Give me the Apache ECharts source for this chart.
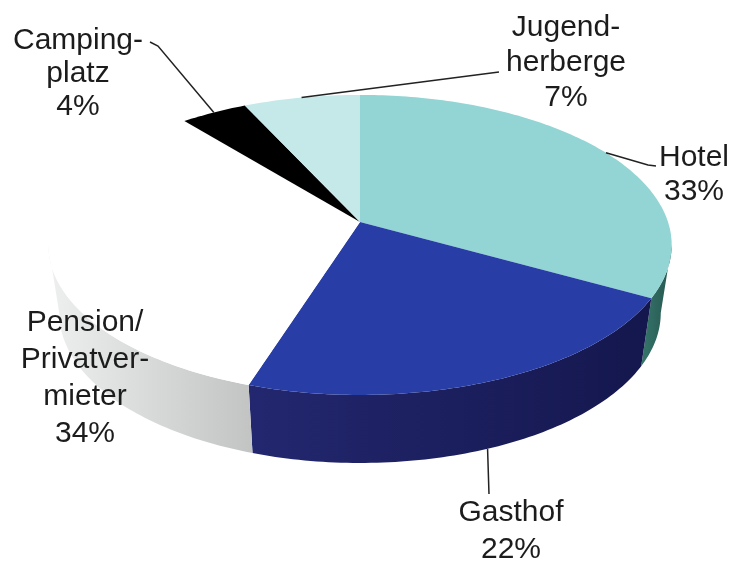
<!DOCTYPE html>
<html>
<head>
<meta charset="utf-8">
<script src="https://cdn.jsdelivr.net/npm/echarts@6/dist/echarts.min.js"></script>
<style>
  html, body { margin: 0; padding: 0; background: #fff; }
  #main { width: 736px; height: 564px; }
</style>
</head>
<body>
<div id="main"></div>
<script>
// Verteilung der Übernachtungen nach Betriebsart

const categories = ['Hotel', 'Gasthof', 'Pension/Privatvermieter', 'Campingplatz', 'Jugendherberge'];
const labelTexts = ['Hotel', 'Gasthof', 'Pension/\nPrivatver-\nmieter', 'Camping-\nplatz', 'Jugend-\nherberge'];
const shares = [33, 22, 34, 4, 7];

// Farben (Oberseite / Seitenwand)
const topColors = ['#93d4d4', '#283ea6', '#ffffff', '#000000', '#c5e8e9'];
const sideColors = [
    ['#36766c', '#25554e'],
    ['#23276f', '#14174d'],
    ['#eeefef', '#c2c4c4'],
    ['#111111', '#000000'],
    ['#9fc8c9', '#86b0b1']
];

// Beschriftung: Mittelpunkt, Zeilenhöhe, Knickpunkte der Führungslinie
const labelAt = [[694, 175], [511, 531], [85, 378], [78, 74], [566, 63]];
const labelLineHeight = [34, 37, 37, 33, 35];
const leaderPoints = [
    [[648, 165], [656, 166]],
    [[489, 494]],
    null,
    [[158, 46], [150, 42]],
    [[499, 72]]
];

// Geometrie der "3D"-Torte
const CX = 360, CY = 222;   // Spitze der Segmente
const RX = 308, RY = 146.5; // Halbachsen
const K = 0.153;            // Perspektive
const DEPTH = 68;           // Höhe der Seitenwand
const BOTTOM_SCALE = 0.965; // Boden etwas schmaler (Fluchtpunkt)
const VIS0 = 180 - Math.acos(K) * 180 / Math.PI; // sichtbarer Bereich der Wand
const VIS1 = 360 - VIS0;

const total = shares.reduce((a, b) => a + b, 0);
let acc = 0;
const startDeg = [], endDeg = [];
shares.forEach((v) => {
    startDeg.push(acc / total * 360);
    acc += v;
    endDeg.push(acc / total * 360);
});

function proj(deg, bottom) {
    const t = deg * Math.PI / 180;
    const u = Math.sin(t), v = Math.cos(t);
    const p = 1 / (1 + K * v);
    if (bottom) {
        return [CX + RX * u * p * BOTTOM_SCALE, CY - RY * v * p + DEPTH];
    }
    return [CX + RX * u * p, CY - RY * v * p];
}

function arc(a, b, bottom) {
    const n = Math.max(2, Math.ceil(b - a));
    const pts = [];
    for (let j = 0; j <= n; j++) {
        pts.push(proj(a + (b - a) * j / n, bottom));
    }
    return pts;
}

function renderItem(params, api) {
    const i = params.dataIndex;
    const a0 = startDeg[i], a1 = endDeg[i];
    const children = [];

    // Seitenwand
    const s = Math.max(a0, VIS0), e = Math.min(a1, VIS1);
    if (s < e) {
        children.push({
            type: 'polygon',
            shape: { points: arc(s, e, false).concat(arc(s, e, true).reverse()) },
            style: {
                fill: new echarts.graphic.LinearGradient(0, 0, 1, 0, [
                    { offset: 0, color: sideColors[i][0] },
                    { offset: 1, color: sideColors[i][1] }
                ])
            }
        });
    }

    // Oberseite
    children.push({
        type: 'polygon',
        shape: { points: [[CX, CY]].concat(arc(a0, a1, false)) },
        style: { fill: topColors[i] }
    });

    // Führungslinie
    const mid = (a0 + a1) / 2;
    const front = mid > VIS0 && mid < VIS1;
    if (leaderPoints[i]) {
        children.push({
            type: 'polyline',
            z2: 10,
            shape: { points: [proj(mid, front)].concat(leaderPoints[i]) },
            style: { stroke: '#222', lineWidth: 1.5, fill: null }
        });
    }

    // Text
    children.push({
        type: 'text',
        z2: 10,
        x: labelAt[i][0],
        y: labelAt[i][1],
        style: {
            text: labelTexts[i] + '\n' + api.value(0) + '%',
            fill: '#1c1c1c',
            font: '30px "Liberation Sans", Arial, sans-serif',
            lineHeight: labelLineHeight[i],
            align: 'center',
            verticalAlign: 'middle'
        }
    });

    return { type: 'group', children: children };
}

const chart = echarts.init(document.getElementById('main'), null, { renderer: 'canvas' });

chart.setOption({
    backgroundColor: '#ffffff',
    animation: false,
    series: [{
        type: 'custom',
        coordinateSystem: 'none',
        renderItem: renderItem,
        data: shares.map((v, i) => ({ name: categories[i], value: [v] }))
    }]
});
</script>
</body>
</html>
